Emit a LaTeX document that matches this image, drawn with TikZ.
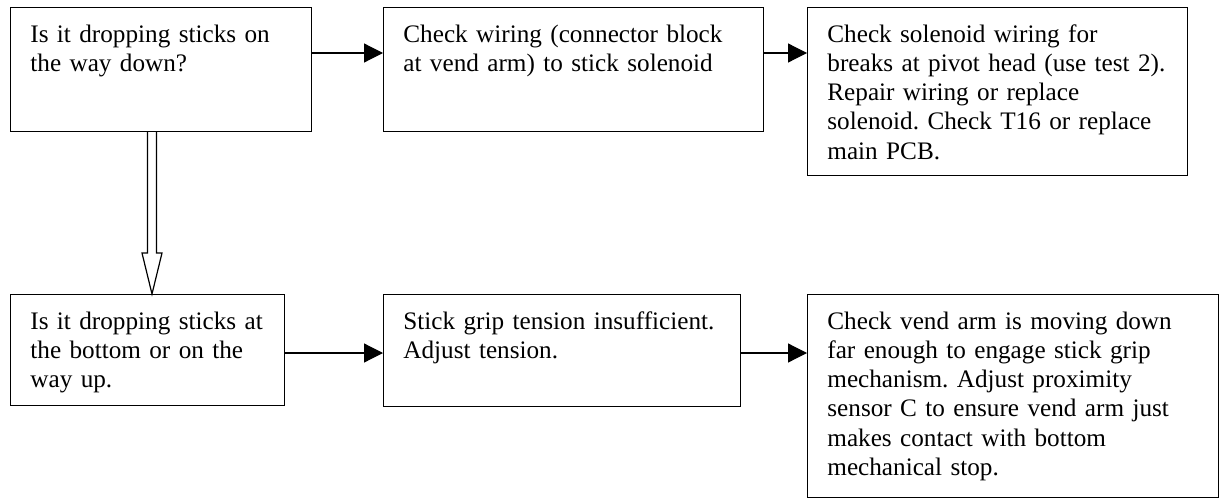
\documentclass[tikz,border=0pt]{standalone}
\usepackage{fontspec}
\setmainfont{Liberation Serif}
\usetikzlibrary{arrows.meta,calc}
\frenchspacing
\begin{document}
\begin{tikzpicture}[x=0.5pt,y=-0.5pt,
  box/.style={draw,line width=0.6pt,rectangle,inner sep=0pt,anchor=north west},
  txt/.style={anchor=base west,inner sep=0pt,align=left,text width=#1,font=\fontsize{12.6}{14.65}\selectfont\frenchspacing},
  arr/.style={line width=0.6pt,-{Triangle[length=9.5pt,width=9.5pt]}},
  hollow/.style={draw,line width=0.6pt,fill=white,line join=miter}]
\useasboundingbox (0,0) rectangle (1220,498);
% boxes
\node[box,minimum width=150.5pt,minimum height=62pt] (A) at (10,7) {};
\node[box,minimum width=190pt,minimum height=62pt] (B) at (383,7) {};
\node[box,minimum width=190pt,minimum height=84pt] (C) at (807,7) {};
\node[box,minimum width=137pt,minimum height=55.5pt] (D) at (10,294) {};
\node[box,minimum width=178.5pt,minimum height=56pt] (E) at (383,294) {};
\node[box,minimum width=205.5pt,minimum height=101.5pt] (F) at (807,294) {};
% texts
\node[txt=140pt] (At) at (30,42) {Is it dropping sticks on\\the way down?};
\node[txt=180pt] (Bt) at (403,42) {Check wiring (connector block\\at vend arm) to stick solenoid};
\node[txt=180pt] (Ct) at (827,42) {Check solenoid wiring for\\breaks at pivot head (use test 2).\\Repair wiring or replace\\solenoid. Check T16 or replace\\main PCB.};
\node[txt=130pt] (Dt) at (30,329) {Is it dropping sticks at\\the bottom or on the\\way up.};
\node[txt=170pt] (Et) at (403,329) {Stick grip tension insufficient.\\Adjust tension.};
\node[txt=195pt] (Ft) at (827,329) {Check vend arm is moving down\\far enough to engage stick grip\\mechanism. Adjust proximity\\sensor C to ensure vend arm just\\makes contact with bottom\\mechanical stop.};
% arrows
\coordinate (r1) at (0,53);
\coordinate (r2) at (0,353);
\draw[arr] (A.east |- r1) -- (B.west |- r1);
\draw[arr] (B.east |- r1) -- (C.west |- r1);
\draw[arr] (D.east |- r2) -- (E.west |- r2);
\draw[arr] (E.east |- r2) -- (F.west |- r2);
% hollow down arrow
\coordinate (tip) at (152,294);
\coordinate (hb) at (152,253);
\draw[hollow] ($(A.south -| tip)+(-4.5,0)$) -- ($(hb)+(-4.5,0)$) -- ($(hb)+(-10,0)$) -- (D.north -| tip) -- ($(hb)+(10,0)$) -- ($(hb)+(4.5,0)$) -- ($(A.south -| tip)+(4.5,0)$);
\end{tikzpicture}
\end{document}
